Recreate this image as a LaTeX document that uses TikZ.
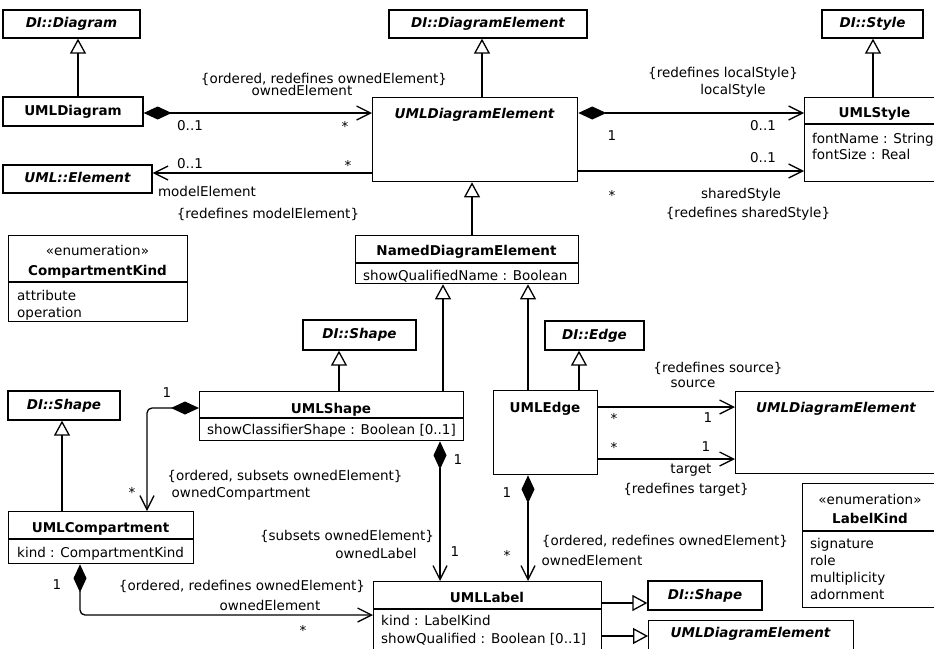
\documentclass[tikz,border=0pt]{standalone}
\usepackage{fontspec}
\setmainfont{DejaVu Sans}
\usetikzlibrary{positioning,arrows.meta,calc}

\begin{document}
\begin{tikzpicture}[x=1pt,y=-1pt,
    every node/.style={font=\fontsize{13.5}{16}\selectfont},
    box/.style={draw, line width=1.3pt, inner sep=0pt, text height=10pt, text depth=3pt,
        font=\fontsize{13.5}{16}\selectfont\bfseries\itshape},
    cls/.style={draw, line width=1.3pt, inner sep=0pt, anchor=north west},
    ttl/.style={inner sep=0pt, anchor=base, font=\fontsize{13.5}{16}\selectfont\bfseries},
    ittl/.style={ttl, font=\fontsize{13.5}{16}\selectfont\bfseries\itshape},
    attr/.style={inner sep=0pt, anchor=base west},
    lbl/.style={inner sep=0pt, anchor=base},
    edge/.style={line width=1.3pt},
    gen/.style={edge, -{Triangle[open, length=15pt, width=16pt]}},
    nav/.style={edge, -{Straight Barb[length=14pt, width=14pt]}},
    comp/.style={edge, {Diamond[length=28pt, width=13pt]}-{Straight Barb[length=14pt, width=14pt]}}]
    \path[use as bounding box, fill=white] (0,0) rectangle (934,648);

    % DI classes
    \node[box, minimum width=137pt, minimum height=28pt] (dDiagram) at (71.5,24) {DI::Diagram};
    \node[box, minimum width=198pt, minimum height=28pt] (dElem) at (488,24) {DI::DiagramElement};
    \node[box, minimum width=101pt, minimum height=28pt] (dStyle) at (872.5,24) {DI::Style};
    \node[box, minimum width=149pt, minimum height=28pt] (uElem) at (77.5,179) {UML::Element};
    \node[box, minimum width=113pt, minimum height=30pt] (dShapeA) at (359.5,335) {DI::Shape};
    \node[box, minimum width=99pt, minimum height=29pt] (dEdge) at (594.5,335.5) {DI::Edge};
    \node[box, minimum width=112pt, minimum height=29pt] (dShapeB) at (64,405.5) {DI::Shape};
    \node[box, minimum width=114pt, minimum height=29pt] (dShapeC) at (705,595.5) {DI::Shape};

    % UMLDiagram, UMLDiagramElement, UMLStyle
    \node[box, font=\fontsize{13.5}{16}\selectfont\bfseries, minimum width=140pt, minimum height=29pt] (uDiagram) at (73,111.5) {UMLDiagram};
    \node[cls, minimum width=205pt, minimum height=84pt] (uDE) at (372,97) {};
    \node[ittl] (uDEt) at (474.5,118) {UMLDiagramElement};
    \node[cls, minimum width=145pt, minimum height=84pt] (uStyle) at (804,97) {};
    \node[ttl] (uStylet) at (874.5,117) {UMLStyle};
    \draw[edge] (uStyle.west |- 0,124) -- (uStyle.east |- 0,124);
    \node[attr] (uStyle1) at (812,143) {fontName : String};
    \node[attr] (uStyle2) at (812,159) {fontSize : Real};

    % CompartmentKind
    \node[cls, minimum width=179pt, minimum height=86pt] (cKind) at (8,235) {};
    \node[lbl] (cKinds) at (97.5,255) {«enumeration»};
    \node[ttl] (cKindt) at (97.5,275) {CompartmentKind};
    \draw[edge] (cKind.west |- 0,282) -- (cKind.east |- 0,282);
    \node[attr] (cKind1) at (17,300) {attribute};
    \node[attr] (cKind2) at (17,317) {operation};

    % NamedDiagramElement
    \node[cls, minimum width=223pt, minimum height=48pt] (nDE) at (355,235) {};
    \node[ttl] (nDEt) at (466.5,255) {NamedDiagramElement};
    \draw[edge] (nDE.west |- 0,263) -- (nDE.east |- 0,263);
    \node[attr] (nDE1) at (363,280) {showQualifiedName : Boolean};

    % UMLShape, UMLEdge
    \node[cls, minimum width=264pt, minimum height=49pt] (uShape) at (199,391) {};
    \node[ttl] (uShapet) at (331,413) {UMLShape};
    \draw[edge] (uShape.west |- 0,418) -- (uShape.east |- 0,418);
    \node[attr] (uShape1) at (207,434) {showClassifierShape : Boolean [0..1]};
    \node[cls, minimum width=104pt, minimum height=84pt] (uEdge) at (493,390) {};
    \node[ttl] (uEdget) at (545,412) {UMLEdge};
    \node[cls, minimum width=205pt, minimum height=82pt] (uDEB) at (735,391) {};
    \node[ittl] (uDEBt) at (836,412) {UMLDiagramElement};

    % UMLCompartment
    \node[cls, minimum width=185pt, minimum height=52pt] (uComp) at (8,511) {};
    \node[ttl] (uCompt) at (100.5,532) {UMLCompartment};
    \draw[edge] (uComp.west |- 0,539) -- (uComp.east |- 0,539);
    \node[attr] (uComp1) at (17,557) {kind : CompartmentKind};

    % LabelKind
    \node[cls, minimum width=136pt, minimum height=124pt] (lKind) at (802,483) {};
    \node[lbl] (lKinds) at (870,504) {«enumeration»};
    \node[ttl] (lKindt) at (870,523) {LabelKind};
    \draw[edge] (lKind.west |- 0,531) -- (lKind.east |- 0,531);
    \foreach \t [count=\i] in {signature, role, multiplicity, adornment}
        \node[attr] (lKind\i) at (810,{548+17.3*(\i-1)}) {\t};

    % UMLLabel
    \node[cls, minimum width=228pt, minimum height=80pt] (uLabel) at (373,581) {};
    \node[ttl] (uLabelt) at (487,602) {UMLLabel};
    \draw[edge] (uLabel.west |- 0,609) -- (uLabel.east |- 0,609);
    \node[attr] (uLabel1) at (381,625) {kind : LabelKind};
    \node[attr] (uLabel2) at (381,643) {showQualified : Boolean [0..1]};
    \node[cls, minimum width=205pt, minimum height=40pt] (uDEC) at (648,620) {};
    \node[ittl] (uDECt) at (750.5,637) {UMLDiagramElement};

    % generalizations
    \draw[gen] (uDiagram.north -| 78,0) -- (dDiagram.south -| 78,0);
    \draw[gen] (uDE.north -| 482,0) -- (dElem.south -| 482,0);
    \draw[gen] (uStyle.north -| 873,0) -- (dStyle.south -| 873,0);
    \draw[gen] (nDE.north -| 472,0) -- (uDE.south -| 472,0);
    \draw[gen] (uShape.north -| 443,0) -- (nDE.south -| 443,0);
    \draw[gen] (uEdge.north -| 528,0) -- (nDE.south -| 528,0);
    \draw[gen] (uShape.north -| 339,0) -- (dShapeA.south -| 339,0);
    \draw[gen] (uEdge.north -| 579,0) -- (dEdge.south -| 579,0);
    \draw[gen] (uComp.north -| 62,0) -- (dShapeB.south -| 62,0);
    \draw[gen] (uLabel.east |- 0,603) -- (dShapeC.west |- 0,603);
    \draw[gen] (uLabel.east |- 0,636) -- (uDEC.west |- 0,636);

    % associations
    \draw[comp] (uDiagram.east |- 0,113) -- (uDE.west |- 0,113);
    \draw[nav] (uDE.west |- 0,173) -- (uElem.east |- 0,173);
    \draw[comp] (uDE.east |- 0,113) -- (uStyle.west |- 0,113);
    \draw[nav] (uDE.east |- 0,171) -- (uStyle.west |- 0,171);
    \draw[comp, rounded corners=5pt] (uShape.west |- 0,408) -| (uComp.north -| 147,0);
    \draw[comp, rounded corners=5pt] (uComp.south -| 80,0) |- (uLabel.west |- 0,615);
    \draw[comp] (uShape.south -| 440,0) -- (uLabel.north -| 440,0);
    \draw[nav] (uEdge.east |- 0,407) -- (uDEB.west |- 0,407);
    \draw[nav] (uEdge.east |- 0,459) -- (uDEB.west |- 0,459);
    \draw[comp] (uEdge.south -| 528,0) -- (uLabel.north -| 528,0);

    % multiplicities
    \foreach \x/\y/\t [count=\i] in {190/130/0..1, 345/131/*, 190/168/0..1, 348/170/*,
        763/130/0..1, 612/140/1, 763/162/0..1, 612/200/*, 167/397/1, 132/497/*,
        57/589/1, 303/635/*, 458/464/1, 455/556/1, 614/423/*, 708/422/1,
        614/452/*, 706/451/1, 507/497/1, 507/560/*}
        \node[lbl] (m\i) at (\x,\y) {\t};

    % role names and constraints
    \foreach \x/\y/\t [count=\i] in {324/83/{\{ordered, redefines ownedElement\}}, 302/95/ownedElement,
        207/196/modelElement, 268/218/{\{redefines modelElement\}},
        723/77/{\{redefines localStyle\}}, 733/94/localStyle,
        741/198/sharedStyle, 748/217/{\{redefines sharedStyle\}},
        285/480/{\{ordered, subsets ownedElement\}}, 241/497/ownedCompartment,
        242/590/{\{ordered, redefines ownedElement\}}, 270/610/ownedElement,
        347/540/{\{subsets ownedElement\}}, 376/558/ownedLabel,
        718/372/{\{redefines source\}}, 693/387/source,
        691/473/target, 686/493/{\{redefines target\}},
        665/545/{\{ordered, redefines ownedElement\}}, 592/565/ownedElement}
        \node[lbl] (r\i) at (\x,\y) {\t};
\end{tikzpicture}
\end{document}
